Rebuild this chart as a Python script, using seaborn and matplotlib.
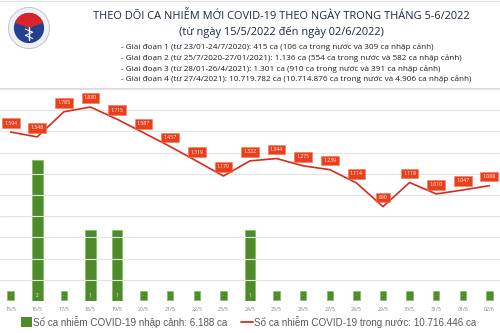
import matplotlib
matplotlib.use("Agg")
import matplotlib.pyplot as plt
import seaborn as sns
import numpy as np
import pandas as pd
from matplotlib.patches import Circle, Wedge, Rectangle
from matplotlib.lines import Line2D

dates = ["15/5", "16/5", "17/5", "18/5", "19/5", "20/5", "21/5", "22/5", "23/5", "24/5",
         "25/5", "26/5", "27/5", "28/5", "29/5", "30/5", "31/5", "01/6", "02/6"]
imported = [0, 2, 0, 1, 1, 0, 0, 0, 0, 1, 0, 0, 0, 0, 0, 0, 0, 0, 0]
domestic = [1594, 1548, 1785, 1830, 1715, 1587, 1457, 1319, 1179, 1322,
            1344, 1275, 1239, 1114, 890, 1118, 1010, 1047, 1088]

title = "THEO DÕI CA NHIỄM MỚI COVID-19 THEO NGÀY TRONG THÁNG 5-6/2022"
subtitle = "(từ ngày 15/5/2022 đến ngày 02/6/2022)"
notes = [
    "- Giai đoạn 1 (từ 23/01-24/7/2020): 415 ca (106 ca trong nước và 309 ca nhập cảnh)",
    "- Giai đoạn 2 (từ 25/7/2020-27/01/2021): 1.136 ca (554 ca trong nước và 582 ca nhập cảnh)",
    "- Giai đoạn 3 (từ 28/01-26/4/2021): 1.301 ca (910 ca trong nước và 391 ca nhập cảnh)",
    "- Giai đoạn 4 (từ 27/4/2021): 10.719.782 ca (10.714.876 ca trong nước và 4.906 ca nhập cảnh)",
]
legend_bar = "Số ca nhiễm COVID-19 nhập cảnh: 6.188 ca"
legend_line = "Số ca nhiễm COVID-19 trong nước: 10.716.446 ca"

def fmt(v):
    return f"{v:,}".replace(",", ".")

sns.set_theme(style="white")
plt.rcParams["font.family"] = ["Open Sans", "DejaVu Sans"]

W, H = 500, 333
fig = plt.figure(figsize=(5.0, 3.33), dpi=100)
fig.patch.set_facecolor("white")

def fx(px):
    return px / W
def fy(py):
    return 1 - py / H

# plot area from y=89 to y=301 px, x 0..500
ax = fig.add_axes([0, fy(301), 1, (301 - 89) / H])
df = pd.DataFrame({"date": dates, "imported": imported, "domestic": domestic})

ax2 = ax.twinx()
ax.set_zorder(1)
ax2.set_zorder(2)
ax.patch.set_visible(False)

sns.barplot(data=df, x="date", y="imported", ax=ax, color="#4f8a2c", width=0.4,
            edgecolor="#7cc35a", linewidth=0.6, saturation=1)
ax.set_xlim(-0.4, 18.4)
ax.set_ylim(0, 3)

x = np.arange(len(dates))
sns.lineplot(x=x, y=domestic, ax=ax2, color="#d92a1c", linewidth=1.2)
ax2.set_ylim(0, 2000)
ax2.set_xlim(-0.4, 18.4)

for a in (ax, ax2):
    for s in a.spines.values():
        s.set_visible(False)
    a.set_ylabel("")
    a.set_xlabel("")
ax.set_yticks([])
ax2.set_yticks([])

for g in range(200, 2001, 200):
    ax2.axhline(g, color="#e4e4e4", linewidth=0.8, zorder=0)
ax.axhline(0, color="#d9d9d9", linewidth=0.8)

ax.set_xticks(x)
ax.set_xticklabels(dates, fontsize=3.8, color="#7f7f7f")
ax.tick_params(axis="x", length=0, pad=4)
ax.xaxis.set_visible(True)

for i, v in enumerate(imported):
    if v == 0:
        ax.annotate("-", (i, 0), xytext=(0, 4.2), textcoords="offset points",
                    ha="center", va="center", fontsize=3, color="white",
                    bbox=dict(boxstyle="square,pad=0.6", fc="#4f8a2c", ec="#7cc35a", lw=0.5))
    else:
        ax.annotate(str(v), (i, 0), xytext=(0, 4.2), textcoords="offset points",
                    ha="center", va="center", fontsize=3.4, color="white")

for i, v in enumerate(domestic):
    ax2.annotate(fmt(v), (i, v), xytext=(0, 6.5), textcoords="offset points",
                 ha="center", va="center", fontsize=3.7, color="white",
                 bbox=dict(boxstyle="square,pad=0.45", fc="#ea3f1b", ec="#f07a5a", lw=0.4),
                 zorder=5)

fig.text(fx(281), fy(16), title, ha="center", va="center", fontsize=7.9, color="#1a2740")
fig.text(fx(281), fy(32), subtitle, ha="center", va="center", fontsize=7.9, color="#1a2740")
for k, t in enumerate(notes):
    fig.text(fx(121), fy(47.5 + 10.7 * k), t, ha="left", va="center", fontsize=5.85, color="#1e1e1e")

fig.add_artist(Line2D([0, 1], [fy(88), fy(88)], color="#dcdcdc", lw=0.8, transform=fig.transFigure))
fig.add_artist(Line2D([0, 1], [fy(1), fy(1)], color="#e0e0e0", lw=0.8, transform=fig.transFigure))

lax = fig.add_axes([fx(8), fy(49), fx(42), 42 / H])
lax.set_xlim(-1, 1); lax.set_ylim(-1, 1); lax.set_aspect("equal"); lax.axis("off")
lax.add_patch(Circle((0, 0), 0.98, fc="#eef0f4", ec="#b9bfcc", lw=0.6))
lax.add_patch(Circle((0, 0), 0.72, fc="#23408e", ec="none"))
lax.add_patch(Wedge((0, 0), 0.72, 20, 160, fc="#d8242a", ec="none"))
lax.add_patch(Rectangle((-0.55, 0.22), 1.1, 0.04, fc="#f3c400", ec="none"))
lax.plot([0, 0], [-0.55, 0.05], color="white", lw=1.0)
lax.plot([-0.18, 0.18, -0.18, 0.18], [-0.05, -0.2, -0.35, -0.5], color="white", lw=0.7)

fig.add_artist(Rectangle((fx(21), fy(327)), fx(11), 10 / H, transform=fig.transFigure,
                         fc="#4f8a2c", ec="none"))
fig.text(fx(33), fy(322), legend_bar, ha="left", va="center", fontsize=7.1,
         color="#595959", family=["Liberation Sans", "DejaVu Sans"])
fig.add_artist(Line2D([fx(241), fx(253)], [fy(322), fy(322)], color="#d92a1c", lw=1.3,
                      transform=fig.transFigure))
fig.text(fx(254), fy(322), legend_line, ha="left", va="center", fontsize=7.1,
         color="#595959", family=["Liberation Sans", "DejaVu Sans"])

fig.savefig("out.png", dpi=100, facecolor="white")
